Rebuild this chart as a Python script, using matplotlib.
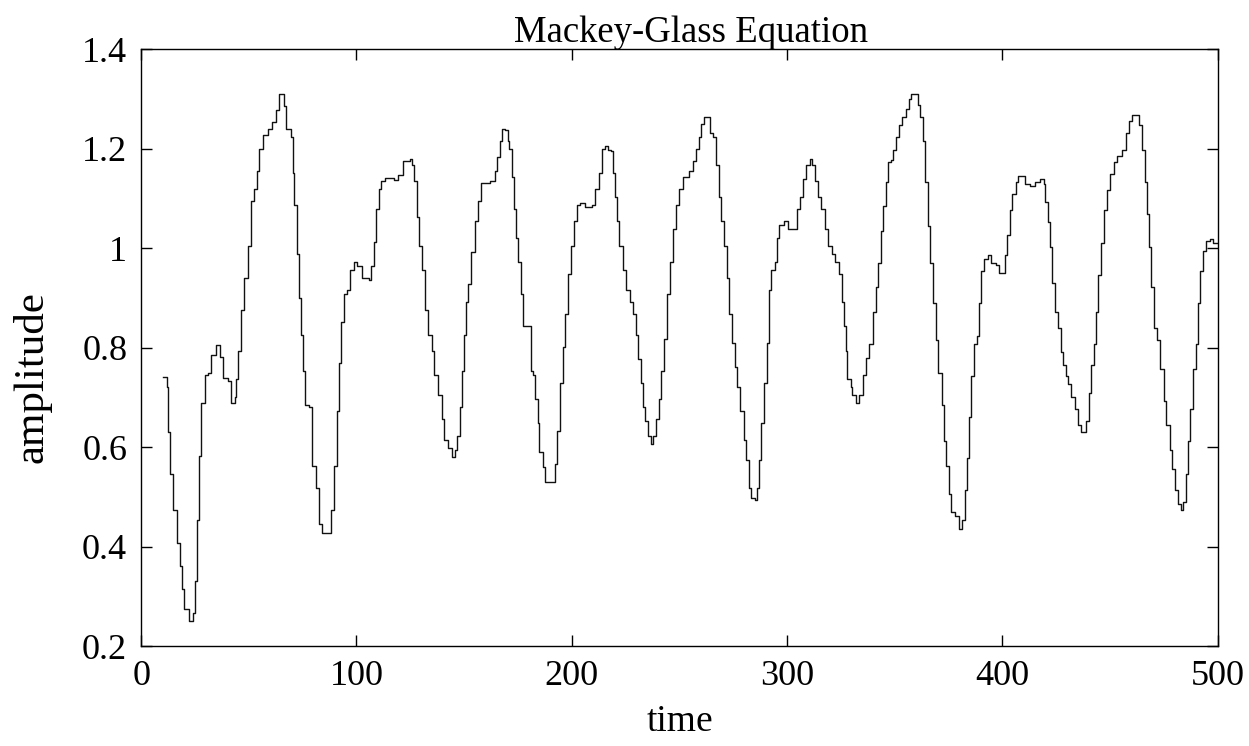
import matplotlib
matplotlib.use("Agg")
import matplotlib.pyplot as plt
from matplotlib.ticker import FuncFormatter

# (time, amplitude) points, drawn as a staircase
seg1 = [(10, 0.741), (11.8, 0.72), (12.6, 0.63), (13.4, 0.546), (14.9, 0.473), (16.5, 0.408),
        (18, 0.36), (19.2, 0.315), (20, 0.274), (22.3, 0.25), (24.2, 0.266), (24.9, 0.33),
        (26, 0.453), (26.9, 0.583), (28, 0.688), (29.5, 0.745), (31, 0.749), (32.6, 0.786),
        (34.6, 0.806), (36.5, 0.782), (38, 0.739), (40.3, 0.733), (41.8, 0.688), (43.4, 0.70),
        (44.2, 0.737), (45.2, 0.794), (46.5, 0.875), (48, 0.94), (49.5, 1.005), (50.8, 1.094),
        (52.6, 1.119), (53.7, 1.155), (54.9, 1.2), (56.5, 1.228), (58.8, 1.24), (61, 1.253),
        (62.6, 1.277), (64.2, 1.31), (66.5, 1.285), (67.2, 1.24), (69.5, 1.224), (70.3, 1.151),
        (71, 1.086), (72.2, 0.989), (73.1, 0.9), (74.2, 0.826), (75.2, 0.753), (76, 0.684),
        (78, 0.68), (79.5, 0.563), (81, 0.518), (82.6, 0.445), (84.2, 0.428), (86.5, 0.428),
        (88, 0.473), (89.5, 0.563), (91, 0.672), (91.8, 0.77), (92.6, 0.851), (94.2, 0.908),
        (95.7, 0.916), (97.2, 0.956), (98.8, 0.973), (100.3, 0.965), (102.6, 0.94), (105.7, 0.936),
        (106.9, 0.965), (108, 1.013), (109.1, 1.078), (110.3, 1.119), (111.5, 1.135), (113.4, 1.141),
        (117.2, 1.137), (119.5, 1.147), (121.8, 1.176), (124.9, 1.18), (126, 1.168), (126.9, 1.135),
        (128, 1.062), (129.2, 1.005), (130.6, 0.956), (131.8, 0.875), (133.4, 0.826), (134.9, 0.794),
        (136.2, 0.745), (138, 0.705), (139.6, 0.656), (140.8, 0.615), (142.3, 0.599), (144.2, 0.581),
        (145.7, 0.595), (146.5, 0.623), (148, 0.68), (148.8, 0.753), (150, 0.826), (151.1, 0.891),
        (151.8, 0.928), (153.4, 0.993), (154.9, 1.054), (156.5, 1.094), (158, 1.131), (161.9, 1.135),
        (164.2, 1.155), (165.4, 1.184), (166.5, 1.216), (167.5, 1.24), (169.1, 1.237), (170.3, 1.216)]

seg2 = [(171, 1.2), (172.4, 1.143), (173.1, 1.078), (174.2, 1.021), (175.2, 0.972), (176.3, 0.908),
        (177.4, 0.843), (180, 0.843), (181, 0.753), (182.1, 0.745), (183.1, 0.697), (184.2, 0.648),
        (185, 0.591), (186.6, 0.559), (187.4, 0.53), (191.3, 0.53), (192.1, 0.567), (193.2, 0.632),
        (194.5, 0.729), (195.7, 0.802), (196.8, 0.867), (198.4, 0.948), (199.5, 1.005), (200.8, 1.054),
        (202.4, 1.086), (203.9, 1.09), (206.3, 1.082), (209.5, 1.086), (211, 1.119), (212.6, 1.151),
        (214.2, 1.2), (215.3, 1.206), (216.6, 1.198), (218.2, 1.196), (219, 1.151), (220.1, 1.103),
        (221, 1.054), (222.1, 1.005), (223.7, 0.956), (225.3, 0.916), (226.9, 0.891), (228.4, 0.867),
        (229.7, 0.826), (230.8, 0.778), (232.1, 0.729), (233.2, 0.68), (234, 0.652), (235.2, 0.623),
        (236.8, 0.607), (237.9, 0.623), (239, 0.656), (240.3, 0.697), (241.5, 0.753), (242.7, 0.818),
        (244.2, 0.908), (245.8, 0.973), (246.9, 1.038), (248.2, 1.086), (249.8, 1.119), (251.7, 1.143),
        (254.5, 1.155), (256.4, 1.176), (257.7, 1.2), (258.9, 1.224), (260, 1.249), (261.6, 1.263),
        (263.5, 1.263), (264, 1.232), (265.6, 1.224), (267.2, 1.168), (268.4, 1.103), (269.5, 1.054),
        (270.6, 1.005), (271.9, 0.94), (273.1, 0.867), (274.2, 0.81), (275.8, 0.761), (276.9, 0.721),
        (278.2, 0.672), (279.8, 0.615), (281, 0.575), (282.1, 0.518), (283.3, 0.498), (285.3, 0.494),
        (286.1, 0.518), (286.9, 0.575), (288, 0.648), (289.3, 0.729), (290.5, 0.81), (291.6, 0.916),
        (292.7, 0.956), (294.3, 0.973), (295.3, 1.021), (296.4, 1.046), (298.4, 1.054), (300.3, 1.038),
        (303.5, 1.038), (304.7, 1.078), (305.8, 1.103), (307.4, 1.139), (309, 1.168), (310.6, 1.18),
        (311.7, 1.168), (313, 1.135), (314.2, 1.103), (315.8, 1.078), (317.4, 1.038), (319, 1.005),
        (320.9, 0.989), (322.4, 0.973), (324, 0.948), (325.3, 0.891), (326.4, 0.843), (327.2, 0.794),
        (328, 0.737), (329.6, 0.721), (330.3, 0.705), (331.9, 0.688), (333.5, 0.705), (335.1, 0.745)]

seg3 = [(336.7, 0.78), (338.2, 0.807), (339.7, 0.872), (341.2, 0.921), (342.3, 0.97), (343.5, 1.035),
        (344.7, 1.084), (345.8, 1.133), (346.9, 1.174), (348.1, 1.178), (349.3, 1.198), (350.4, 1.223),
        (351.9, 1.247), (353.4, 1.264), (355, 1.28), (356.5, 1.3), (357.6, 1.31), (359.5, 1.31),
        (360.6, 1.288), (361.5, 1.264), (363.1, 1.215), (364.1, 1.133), (365.2, 1.044), (366.4, 0.97),
        (367.9, 0.889), (369.2, 0.815), (370.2, 0.75), (371.8, 0.685), (372.8, 0.612), (374, 0.563),
        (375.3, 0.506), (376.3, 0.469), (377.9, 0.461), (379.8, 0.436), (381.4, 0.453), (382.4, 0.514),
        (383.5, 0.579), (384.4, 0.66), (385.5, 0.742), (386.6, 0.807), (388.1, 0.823), (389, 0.889),
        (390.1, 0.954), (391.6, 0.978), (393.1, 0.986), (394.7, 0.97), (397, 0.966), (398.2, 0.95),
        (400, 0.95), (401.2, 0.986), (402.3, 1.027), (403.4, 1.076), (404.6, 1.109), (406.1, 1.133),
        (407.3, 1.145), (408.9, 1.145), (410.7, 1.129), (413, 1.125), (415.3, 1.133), (417.6, 1.139),
        (419.1, 1.129), (419.8, 1.092), (421.1, 1.052), (422.1, 1.003), (423.2, 0.929), (424.4, 0.872),
        (425.6, 0.84), (427.2, 0.791), (428.2, 0.766), (429.3, 0.742), (430.5, 0.726), (431.8, 0.701),
        (433.6, 0.677), (435.1, 0.644), (436.6, 0.63), (437.9, 0.63), (438.9, 0.652), (440, 0.709),
        (441.2, 0.766), (442.4, 0.807), (443.5, 0.872), (444.6, 0.946), (445.8, 1.011), (447, 1.076),
        (448.5, 1.117), (450.1, 1.149), (451.9, 1.174), (453.4, 1.186), (455.7, 1.198), (457.3, 1.231),
        (458.8, 1.255), (460.3, 1.268), (462.3, 1.268), (463.4, 1.247), (464.9, 1.198), (466, 1.133),
        (466.9, 1.068), (468, 1.003), (469, 0.921), (470.2, 0.84), (471.8, 0.815), (473.3, 0.758),
        (474.8, 0.693), (476, 0.644), (477.6, 0.595), (478.6, 0.555), (480.2, 0.514), (481.7, 0.485),
        (482.7, 0.473), (484, 0.489), (485.2, 0.546), (486.3, 0.612), (487.3, 0.677), (488.5, 0.758),
        (489.8, 0.807), (490.8, 0.889), (491.9, 0.954), (493.1, 0.995), (494.7, 1.015), (496.2, 1.019),
        (498, 1.011), (500, 1.011)]

xticks = [0, 100, 200, 300, 400, 500]
yticks = [0.2, 0.4, 0.6, 0.8, 1.0, 1.2, 1.4]

pts = seg1 + seg2 + seg3
t = [p[0] for p in pts]
amp = [p[1] for p in pts]

plt.rcParams["font.family"] = "Liberation Serif"

fig = plt.figure(figsize=(12.49, 7.46), dpi=100)
ax = fig.add_axes([0.113, 0.134, 0.862, 0.800])

ax.plot(t, amp, color="#111111", linewidth=1.0, drawstyle="steps-post")

ax.set_xlim(0, 500)
ax.set_ylim(0.2, 1.4)
ax.set_xticks(xticks)
ax.set_yticks(yticks)
ax.yaxis.set_major_formatter(FuncFormatter(lambda v, p: "%g" % v))
ax.tick_params(direction="in", length=8, width=1, top=True, right=True, labelsize=26, pad=10)

for s in ax.spines.values():
    s.set_linewidth(1.0)

ax.set_title("Mackey-Glass Equation", fontsize=26.5, pad=5, x=0.511)
ax.set_xlabel("time", fontsize=27, labelpad=8)
ax.set_ylabel("amplitude", fontsize=31)
ax.yaxis.set_label_coords(-0.083, 0.45)

fig.savefig("out.png", dpi=100)
